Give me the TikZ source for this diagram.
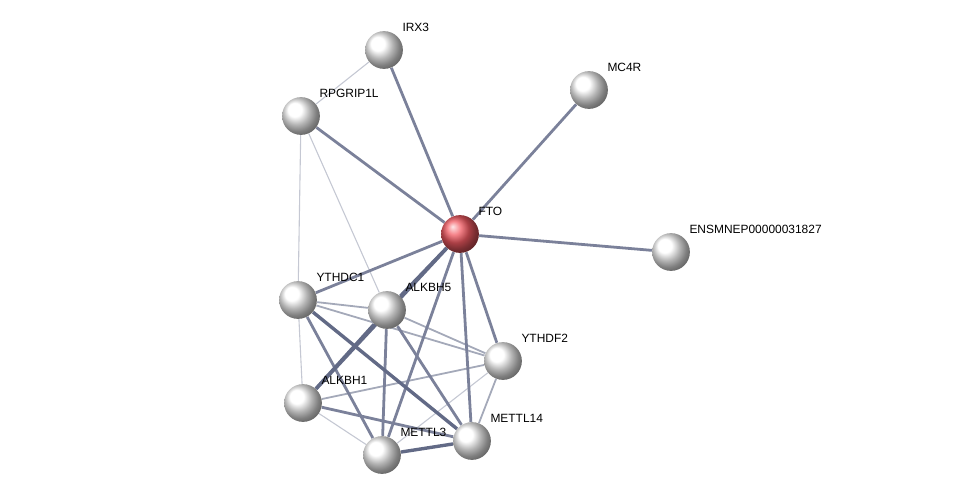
\documentclass[tikz,border=0pt]{standalone}
\usepackage{fontspec}
\setmainfont{Liberation Sans}
\usepackage{tikz}
\usetikzlibrary{
    shadings,
    backgrounds
}

\definecolor{edgecol}{HTML}{5A6280}
\definecolor{ftored}{HTML}{F25A62}

\tikzset{
    protein/.style={circle, minimum size=21.5pt, inner sep=0, shading=ball, ball color=white},
    query/.style={circle, minimum size=21.5pt, inner sep=0, shading=ball, ball color=ftored},
    lbl/.style={anchor=south west, inner sep=0, xshift=2.6pt, yshift=2.4pt, font=\fontsize{6.8}{8}\selectfont},
    faint/.style={edgecol!35, line width=1.1pt*0.567},
    light/.style={edgecol!55, line width=1.8pt*0.567},
    medium/.style={edgecol!80, line width=2.8pt*0.567},
    heavy/.style={edgecol!95, line width=3.4pt*0.567}
}

\begin{document}
\begin{tikzpicture}[x=0.02cm, y=-0.02cm]

\useasboundingbox (0,0) rectangle (975,500);

% Proteins
\node[protein, label={[lbl]45:IRX3}] (irx3) at (384,50) {};
\node[protein, label={[lbl]45:MC4R}] (mc4r) at (589,90) {};
\node[protein, label={[lbl]45:RPGRIP1L}] (rpgrip) at (301,116) {};
\node[query, label={[lbl]45:FTO}] (fto) at (460,234) {};
\node[protein, label={[lbl]45:ENSMNEP00000031827}] (ensm) at (671,252) {};
\node[protein, label={[lbl]45:YTHDC1}] (ythdc1) at (298,300) {};
\node[protein, label={[lbl]45:ALKBH5}] (alkbh5) at (387,310) {};
\node[protein, label={[lbl]45:YTHDF2}] (ythdf2) at (503,361) {};
\node[protein, label={[lbl]45:ALKBH1}] (alkbh1) at (303,403) {};
\node[protein, label={[lbl]45:METTL3}] (mettl3) at (382,455) {};
\node[protein, label={[lbl]45:METTL14}] (mettl14) at (472,441) {};

% Interactions
\begin{scope}[on background layer]
\foreach \a/\b in {irx3/rpgrip, rpgrip/ythdc1, rpgrip/alkbh5, ythdc1/alkbh1, alkbh1/mettl3, ythdf2/mettl3}
    \draw[faint] (\a) -- (\b);
\foreach \a/\b in {ythdc1/alkbh5, ythdc1/ythdf2, alkbh5/ythdf2, alkbh1/ythdf2, ythdf2/mettl14}
    \draw[light] (\a) -- (\b);
\foreach \a/\b in {irx3/fto, mc4r/fto, rpgrip/fto, fto/ensm, fto/ythdc1, fto/mettl3, fto/mettl14, fto/ythdf2, ythdc1/mettl3, alkbh5/mettl3, alkbh5/mettl14, alkbh1/mettl14}
    \draw[medium] (\a) -- (\b);
\foreach \a/\b in {fto/alkbh5, fto/alkbh1, ythdc1/mettl14, alkbh5/alkbh1, mettl3/mettl14}
    \draw[heavy] (\a) -- (\b);
\end{scope}

\end{tikzpicture}
\end{document}
